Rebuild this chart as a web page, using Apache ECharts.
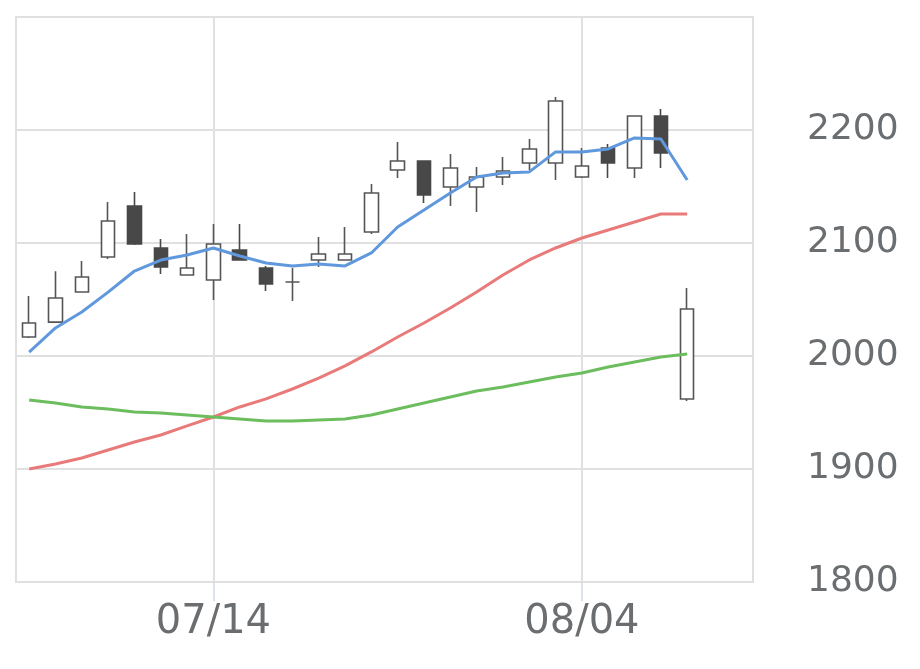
<!DOCTYPE html>
<html>
<head>
<meta charset="utf-8">
<script src="https://cdn.jsdelivr.net/npm/echarts@6/dist/echarts.min.js"></script>
<style>
html,body{margin:0;padding:0;background:#fff;}
#chart{width:920px;height:669px;}
</style>
</head>
<body>
<div id="chart"></div>
<script>
// Trading days (last two slots are empty)
const categories = ['07/03','07/04','07/07','07/08','07/09','07/10','07/11','07/14','07/15','07/16','07/17','07/18','07/22','07/23','07/24','07/25','07/28','07/29','07/30','07/31','08/01','08/04','08/05','08/06','08/07','08/08','08/12','08/13'];
const labeledDates = ['07/14','08/04'];
// OHLC values
const opens  = [2016.8,2030.0,2056.6,2087.6,2132.8,2095.6,2071.7,2067.3,2093.8,2077.9,2065.5,2085.0,2085.0,2109.8,2164.6,2172.6,2149.6,2149.6,2158.4,2170.8,2170.8,2158.4,2184.1,2166.4,2212.4,1962.0];
const closes = [2029.2,2051.3,2069.9,2119.5,2099.1,2078.8,2077.9,2099.1,2085.0,2063.7,2065.5,2090.3,2090.3,2144.3,2172.6,2142.5,2166.4,2158.4,2163.7,2183.2,2225.7,2168.2,2170.8,2212.4,2179.7,2041.6];
const lows   = [2016.0,2030.0,2056.6,2085.9,2098.2,2072.6,2071.7,2049.6,2085.0,2057.5,2048.7,2078.8,2085.0,2108.0,2157.5,2135.4,2132.8,2127.5,2151.3,2164.6,2155.8,2157.5,2157.5,2157.5,2166.4,1960.2];
const highs  = [2053.0,2075.0,2084.0,2136.3,2145.2,2103.5,2108.0,2116.8,2116.8,2079.7,2077.9,2105.3,2114.2,2152.2,2189.4,2172.6,2178.8,2167.3,2176.1,2192.0,2229.2,2184.0,2187.6,2212.4,2218.6,2060.2];
// Moving averages
const maShort = [2003.5,2024.8,2039.0,2056.5,2075.2,2084.9,2089.4,2095.6,2088.5,2082.3,2079.7,2081.4,2079.7,2091.2,2114.2,2129.2,2144.3,2158.4,2162.0,2162.9,2180.6,2180.6,2183.2,2193.0,2192.0,2155.8];
const maMid   = [1900.0,1904.4,1909.7,1916.8,1923.9,1930.1,1938.1,1946.0,1954.9,1962.0,1970.8,1980.5,1991.2,2003.6,2016.8,2029.2,2042.5,2056.6,2071.7,2085.0,2095.6,2104.4,2111.5,2118.6,2125.7,2125.7];
const maLong  = [1961.1,1958.4,1954.9,1953.1,1950.5,1949.6,1947.8,1946.0,1944.3,1942.5,1942.5,1943.4,1944.3,1947.8,1953.1,1958.4,1963.7,1969.0,1972.6,1977.0,1981.4,1985.0,1990.3,1994.7,1999.1,2001.8];
const yMin = 1800, yMax = 2300, yStep = 100;

const candleData = opens.map((o, i) => [o, closes[i], lows[i], highs[i]]);
const showIdx = (i) => labeledDates.indexOf(categories[i]) >= 0;

const chart = echarts.init(document.getElementById('chart'), null, {renderer: 'canvas'});
chart.setOption({
  animation: false,
  backgroundColor: '#ffffff',
  grid: {left: 16, right: 167, top: 17, bottom: 87, show: true, borderColor: '#e0e0e0', borderWidth: 2, containLabel: false},
  xAxis: {
    type: 'category',
    data: categories,
    boundaryGap: true,
    axisLine: {show: false},
    axisTick: {show: true, alignWithLabel: true, interval: (i) => showIdx(i), length: 19, lineStyle: {color: '#cfd8e8', width: 1.5}},
    axisLabel: {interval: (i) => showIdx(i), fontFamily: 'DejaVu Sans', fontSize: 40, color: '#6b6e70', margin: 21},
    splitLine: {show: true, alignWithLabel: true, interval: (i) => showIdx(i), lineStyle: {color: '#e0e0e0', width: 2}}
  },
  yAxis: {
    type: 'value',
    position: 'right',
    min: yMin, max: yMax, interval: yStep,
    axisLine: {show: false},
    axisTick: {show: false},
    axisLabel: {showMaxLabel: false, formatter: (v) => String(v), fontFamily: 'DejaVu Sans', fontSize: 36, color: '#6b6e70', margin: 54},
    splitLine: {show: true, lineStyle: {color: '#e0e0e0', width: 2}}
  },
  series: [
    {
      type: 'candlestick',
      data: candleData,
      barWidth: 14,
      itemStyle: {color: '#ffffff', color0: '#484848', borderColor: '#555555', borderColor0: '#484848', borderWidth: 1.6}
    },
    {type: 'line', data: maShort, showSymbol: false, symbol: 'none', lineStyle: {color: '#5f98dc', width: 3}, z: 3},
    {type: 'line', data: maMid, showSymbol: false, symbol: 'none', lineStyle: {color: '#e97a7a', width: 3}, z: 3},
    {type: 'line', data: maLong, showSymbol: false, symbol: 'none', lineStyle: {color: '#6cbd5e', width: 3}, z: 3}
  ]
});
</script>
</body>
</html>
